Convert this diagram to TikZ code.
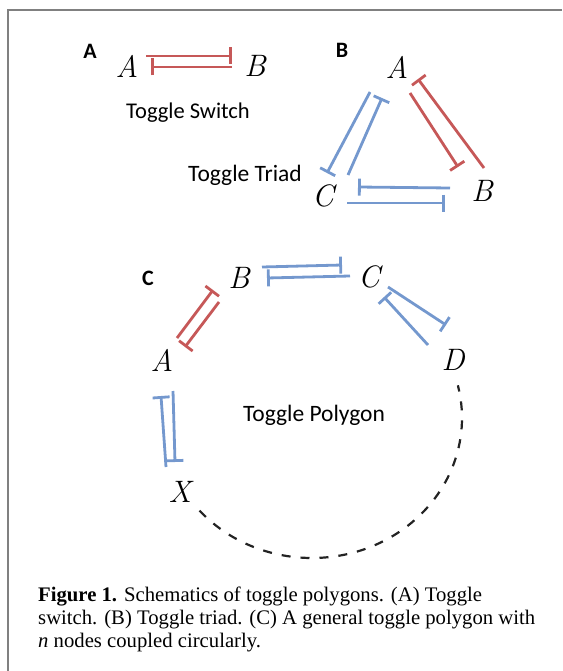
\documentclass[tikz,border=0pt]{standalone}
\usepackage{fontspec}
\newfontfamily\capfont{Liberation Serif}
\newfontfamily\calfont{Carlito}
\usetikzlibrary{arrows.meta}
\definecolor{inhred}{RGB}{198,88,88}
\definecolor{inhblue}{RGB}{116,152,206}
\definecolor{framegray}{RGB}{128,128,128}
\definecolor{dashgray}{RGB}{35,35,35}
\tikzset{
 inh/.style={line width=2.8pt, -{Bar[width=17pt,line width=2.8pt]}},
 redinh/.style={inh, draw=inhred},
 blueinh/.style={inh, draw=inhblue},
 letter/.style={font=\fontsize{31}{31}\selectfont\itshape, inner sep=0pt},
 panel/.style={font=\calfont\bfseries\fontsize{22}{22}\selectfont, inner sep=0pt},
 title/.style={font=\calfont\fontsize{22.5}{22.5}\selectfont, inner sep=0pt},
 bigtitle/.style={font=\calfont\fontsize{23.5}{23.5}\selectfont, inner sep=0pt},
 capline/.style={font=\capfont\fontsize{20.7}{23}\selectfont, inner sep=0pt, anchor=base west},
}
\begin{document}
\begin{tikzpicture}[x=1pt,y=-1pt]
\useasboundingbox (0,0) rectangle (562,671);
\draw[framegray, line width=1.5pt] (8,671) -- (8,10) -- (562,10);

% Panel A
\node[panel] (labA) at (90,51) {A};
\node[letter] (a1) at (127,66) {A};
\node[letter] (b1) at (255,66) {B};
\coordinate (s1a) at (146,56); \coordinate (s1b) at (232,56);
\coordinate (s2a) at (232,67); \coordinate (s2b) at (151,67);
\draw[redinh] (s1a) -- (s1b);
\draw[redinh] (s2a) -- (s2b);
\node[title] (tsw) at (188,113) {Toggle Switch};

% Panel B
\node[panel] (labB) at (342,50) {B};
\node[letter] (a2) at (397,67) {A};
\node[letter] (b2) at (482,191) {B};
\node[letter] (c2) at (323,196) {C};
\coordinate (t1a) at (484,168); \coordinate (t1b) at (418,79);
\coordinate (t2a) at (410,93); \coordinate (t2b) at (458,167);
\coordinate (t3a) at (370,92); \coordinate (t3b) at (327,173);
\coordinate (t4a) at (348,175); \coordinate (t4b) at (382,98);
\coordinate (t5a) at (450,188); \coordinate (t5b) at (358,187);
\coordinate (t6a) at (347,203); \coordinate (t6b) at (445,203);
\draw[redinh] (t1a) -- (t1b);
\draw[redinh] (t2a) -- (t2b);
\draw[blueinh] (t3a) -- (t3b);
\draw[blueinh] (t4a) -- (t4b);
\draw[blueinh] (t5a) -- (t5b);
\draw[blueinh] (t6a) -- (t6b);
\node[bigtitle] (ttr) at (245,175) {Toggle Triad};

% Panel C
\node[panel] (labC) at (148,278) {C};
\node[letter] (a3) at (162,360) {A};
\node[letter] (b3) at (239,278) {B};
\node[letter] (c3) at (369,277) {C};
\node[letter] (d3) at (453,360) {D};
\node[letter] (x3) at (180,492) {X};
\coordinate (p1a) at (177,338); \coordinate (p1b) at (213,290);
\coordinate (p2a) at (219,302); \coordinate (p2b) at (185,347);
\coordinate (p3a) at (262,267); \coordinate (p3b) at (342,265);
\coordinate (p4a) at (350,276); \coordinate (p4b) at (267,278);
\coordinate (p5a) at (388,287); \coordinate (p5b) at (446,325);
\coordinate (p6a) at (428,345); \coordinate (p6b) at (384,297);
\coordinate (p7a) at (166,467); \coordinate (p7b) at (161,396);
\coordinate (p8a) at (173,391); \coordinate (p8b) at (175,462);
\draw[redinh] (p1a) -- (p1b);
\draw[redinh] (p2a) -- (p2b);
\draw[blueinh] (p3a) -- (p3b);
\draw[blueinh] (p4a) -- (p4b);
\draw[blueinh] (p5a) -- (p5b);
\draw[blueinh] (p6a) -- (p6b);
\draw[blueinh] (p7a) -- (p7b);
\draw[blueinh] (p8a) -- (p8b);
\node[bigtitle] (tpo) at (314,415) {Toggle Polygon};
\coordinate (ctr) at (312,418);
\draw[dashgray, line width=2.2pt, dash pattern=on 9pt off 10pt]
  ([shift={(221.4:150pt and 140pt)}]ctr) arc[start angle=221.4, end angle=373.5, x radius=150pt, y radius=140pt];

% Caption
\node[capline] (cap1) at (38,601) {\textbf{Figure 1.}\hspace{7pt}Schematics of toggle polygons. (A) Toggle};
\node[capline] (cap2) at (38,624) {switch. (B) Toggle triad. (C) A general toggle polygon with};
\node[capline] (cap3) at (38,647) {\textit{n} nodes coupled circularly.};
\end{tikzpicture}
\end{document}
